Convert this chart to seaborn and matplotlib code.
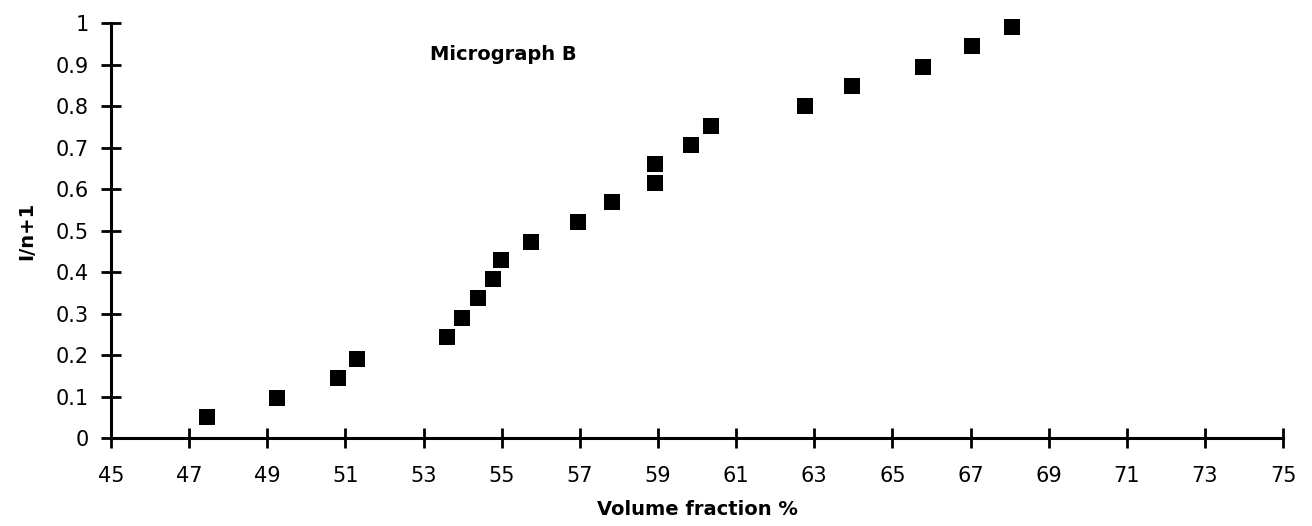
import matplotlib
matplotlib.use("Agg")
import matplotlib.pyplot as plt
import seaborn as sns
import pandas as pd

volume_fraction = [47.46, 49.25, 50.81, 51.30, 53.60, 53.98, 54.39, 54.78, 54.98,
                   55.75, 56.95, 57.82, 58.92, 58.92, 59.85, 60.36, 62.76, 63.97,
                   65.78, 67.04, 68.06]
rank_fraction = [0.050, 0.096, 0.145, 0.190, 0.243, 0.290, 0.337, 0.383, 0.429,
                 0.472, 0.520, 0.569, 0.614, 0.660, 0.706, 0.752, 0.800, 0.848,
                 0.894, 0.945, 0.990]
x_ticks = [45, 47, 49, 51, 53, 55, 57, 59, 61, 63, 65, 67, 69, 71, 73, 75]
y_ticks = [0, 0.1, 0.2, 0.3, 0.4, 0.5, 0.6, 0.7, 0.8, 0.9, 1]
y_tick_labels = ["0", "0.1", "0.2", "0.3", "0.4", "0.5", "0.6", "0.7", "0.8", "0.9", "1"]

df = pd.DataFrame({"x": volume_fraction, "y": rank_fraction})

sns.set_style("white")
plt.rcParams["font.family"] = ["DejaVu Sans"]
plt.rcParams["text.color"] = "black"
plt.rcParams["axes.labelcolor"] = "black"

fig = plt.figure(figsize=(13.12, 5.26), dpi=100)
ax = fig.add_axes([0.0846, 0.167, 0.8934, 0.789])

sns.scatterplot(data=df, x="x", y="y", marker="s", s=125, color="black",
                linewidth=0, ax=ax, clip_on=False, zorder=3)

ax.set_xlim(45, 75)
ax.set_ylim(0, 1)
ax.set_xticks(x_ticks)
ax.set_xticklabels([str(t) for t in x_ticks])
ax.set_yticks(y_ticks)
ax.set_yticklabels(y_tick_labels)

for s in ["top", "right"]:
    ax.spines[s].set_visible(False)
for s in ["left", "bottom"]:
    ax.spines[s].set_linewidth(2.2)
    ax.spines[s].set_color("black")

ax.tick_params(axis="both", direction="inout", length=14, width=2.0,
               colors="black", labelsize=15, bottom=True, left=True)
ax.tick_params(axis="x", pad=13)
ax.tick_params(axis="y", pad=9)

ax.set_xlabel("Volume fraction %", fontsize=14, fontweight="bold", labelpad=10)
ax.set_ylabel("I/n+1", fontsize=14, fontweight="bold", labelpad=14)

ax.text(0.335, 0.925, "Micrograph B", transform=ax.transAxes, fontsize=14,
        fontweight="bold", ha="center", va="center")

fig.savefig("out.png", dpi=100, facecolor="white")
